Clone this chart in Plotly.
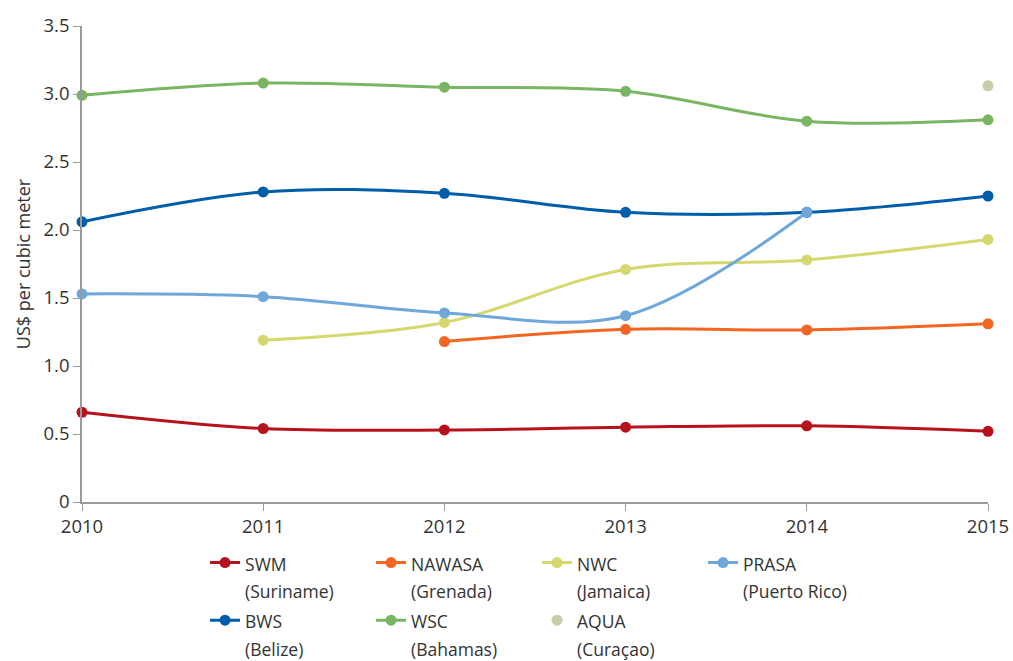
import plotly.graph_objects as go

years = [2010, 2011, 2012, 2013, 2014, 2015]

swm = [0.66, 0.54, 0.53, 0.55, 0.56, 0.52]
nawasa = [None, None, 1.18, 1.27, 1.265, 1.31]
nwc = [None, 1.19, 1.32, 1.71, 1.78, 1.93]
prasa = [1.53, 1.51, 1.39, 1.37, 2.13, None]
bws = [2.06, 2.28, 2.27, 2.13, 2.13, 2.25]
wsc = [2.99, 3.08, 3.05, 3.02, 2.80, 2.81]
aqua = [None, None, None, None, None, 3.06]

y_ticks = [0, 0.5, 1.0, 1.5, 2.0, 2.5, 3.0, 3.5]
y_ticktext = ["0", "0.5", "1.0", "1.5", "2.0", "2.5", "3.0", "3.5"]

# (name, country, values, colour, legend rank, legend column) in drawing order
series = [
    ("SWM", "Suriname", swm, "#B5121B", 1, "c1"),
    ("NAWASA", "Grenada", nawasa, "#F26522", 2, "c2"),
    ("NWC", "Jamaica", nwc, "#D5D86E", 3, "c3"),
    ("BWS", "Belize", bws, "#005DAA", 5, "c1"),
    ("WSC", "Bahamas", wsc, "#79B563", 6, "c2"),
    ("PRASA", "Puerto Rico", prasa, "#6FA7DB", 4, "c4"),
]

FONT = "Open Sans, Noto Sans, sans-serif"
TEXT = "#333333"


def legend_label(name, country):
    return (f'<span style="font-size:17.5px">{name}</span><br>'
            f'<span style="font-size:17.5px">({country})</span>')


fig = go.Figure()
for name, country, vals, color, rank, col in series:
    fig.add_trace(go.Scatter(
        x=years, y=vals, name=legend_label(name, country),
        mode="lines+markers",
        line=dict(color=color, width=3, shape="spline", smoothing=1.0),
        marker=dict(color=color, size=11),
        cliponaxis=False, legendrank=rank, legendgroup=col,
    ))

fig.add_trace(go.Scatter(
    x=years, y=aqua, name=legend_label("AQUA", "Curaçao"),
    mode="markers", marker=dict(color="#C9CBA9", size=11),
    cliponaxis=False, legendrank=7, legendgroup="c3",
))

fig.update_layout(
    width=1013, height=661,
    margin=dict(l=82, r=25, t=26, b=159, autoexpand=False),
    paper_bgcolor="white", plot_bgcolor="white",
    font=dict(family=FONT, size=18, color=TEXT),
    showlegend=True,
    legend=dict(
        orientation="h", x=0.1358, y=-0.085, xanchor="left", yanchor="top",
        entrywidth=121, entrywidthmode="pixels", valign="top",
        font=dict(family=FONT, size=21, color=TEXT),
        traceorder="grouped", tracegroupgap=0,
        itemclick=False, itemdoubleclick=False,
    ),
    xaxis=dict(
        range=[2010, 2015], tickvals=years, ticktext=[str(y) for y in years],
        showgrid=False, zeroline=False, showline=True,
        linecolor="#9A9A9A", linewidth=1.5,
        ticks="outside", ticklen=7, tickcolor="#9A9A9A", tickwidth=1,
        tickfont=dict(family=FONT, size=18.5, color=TEXT),
    ),
    yaxis=dict(
        range=[0, 3.5], tickvals=y_ticks, ticktext=y_ticktext,
        showgrid=False, zeroline=False, showline=True,
        linecolor="#9A9A9A", linewidth=1.5,
        ticks="outside", ticklen=7, tickcolor="#9A9A9A", tickwidth=1,
        tickfont=dict(family=FONT, size=18.5, color=TEXT),
        title=dict(text="US$ per cubic meter", standoff=8,
                   font=dict(family=FONT, size=18, color=TEXT)),
    ),
)

fig.write_html("out.html")
